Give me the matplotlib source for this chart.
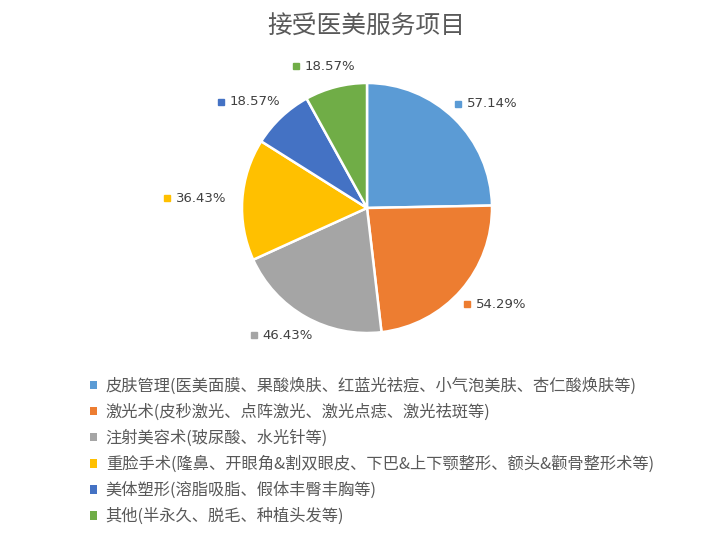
import numpy as np
import matplotlib
matplotlib.use("Agg")
import matplotlib.pyplot as plt

plt.rcParams['font.family'] = ['Noto Sans CJK SC', 'DejaVu Sans']

title = "接受医美服务项目"
categories = [
    "皮肤管理(医美面膜、果酸焕肤、红蓝光祛痘、小气泡美肤、杏仁酸焕肤等)",
    "激光术(皮秒激光、点阵激光、激光点痣、激光祛斑等)",
    "注射美容术(玻尿酸、水光针等)",
    "重脸手术(隆鼻、开眼角&割双眼皮、下巴&上下颚整形、额头&颧骨整形术等)",
    "美体塑形(溶脂吸脂、假体丰臀丰胸等)",
    "其他(半永久、脱毛、种植头发等)",
]
values = [57.14, 54.29, 46.43, 36.43, 18.57, 18.57]
colors = ["#5B9BD5", "#ED7D31", "#A5A5A5", "#FFC000", "#4472C4", "#70AD47"]
text_color = "#595959"

fig = plt.figure(figsize=(7.05, 5.39), dpi=100)
fig.text(0.52, 0.951, title, ha="center", va="center", fontsize=17.8, color=text_color)

# pie axes: centre at (367, 208) px, radius 125 px
ax = fig.add_axes([242 / 705, (539 - 208 - 125) / 539, 250 / 705, 250 / 539])
wedges, _ = ax.pie(values, colors=colors, startangle=90, counterclock=False,
                   radius=1.0, wedgeprops=dict(edgecolor="white", linewidth=1.8))
ax.set_xlim(-1, 1)
ax.set_ylim(-1, 1)
ax.set_aspect("equal")
ax.axis("off")

# data labels (best-fit style) with small colour markers
total = sum(values)
start = 90.0
for v, c in zip(values, colors):
    span = 360.0 * v / total
    mid = np.deg2rad(start - span / 2)
    start -= span
    ux, uy = np.cos(mid), np.sin(mid)
    cx = 1.11 * ux + 0.26 * ux
    cy = 1.11 * uy + 0.06 * uy
    ax.plot([cx - 0.23], [cy], marker="s", markersize=4.5, color=c,
            clip_on=False, linestyle="none")
    ax.text(cx - 0.16, cy, f"{v:.2f}%", ha="left", va="center",
            fontsize=9.5, color="#404040", family=["DejaVu Sans"], clip_on=False)

# legend: small square patches, no edge
leg = fig.legend(wedges, categories, loc="upper left",
                 bbox_to_anchor=(83 / 705, 1 - 371 / 539), frameon=False,
                 fontsize=11.7, handlelength=0.45, handleheight=0.45,
                 handletextpad=0.55, labelspacing=0.545, borderaxespad=0)
for t in leg.get_texts():
    t.set_color(text_color)
for h in leg.legend_handles:
    h.set_edgecolor("none")

fig.savefig("out.png", dpi=100)
